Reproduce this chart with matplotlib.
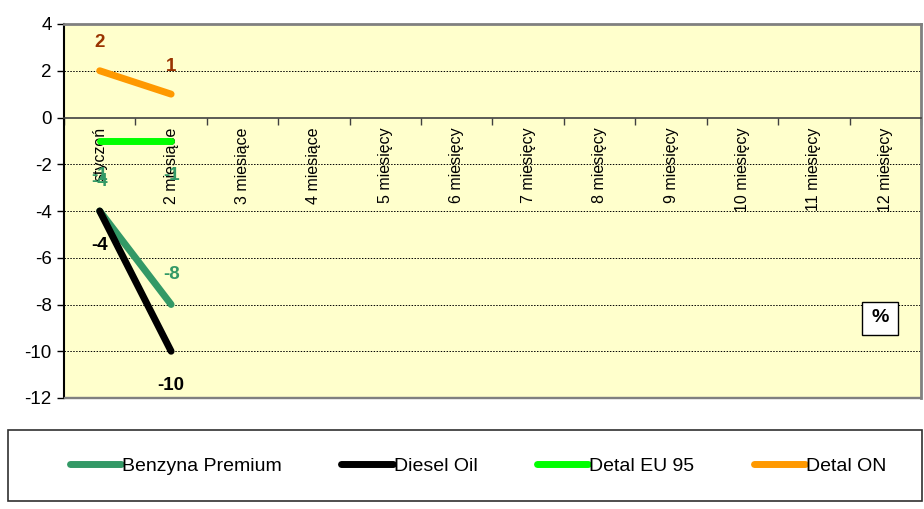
import numpy as np
import matplotlib
matplotlib.use("Agg")
import matplotlib.pyplot as plt
from matplotlib.patches import Rectangle

plt.rcParams['font.family'] = ['Liberation Sans', 'DejaVu Sans']
plt.rcParams['axes.unicode_minus'] = False

months = ['styczeń', '2 miesiące', '3 miesiące', '4 miesiące', '5 miesięcy',
          '6 miesięcy', '7 miesięcy', '8 miesięcy', '9 miesięcy', '10 miesięcy',
          '11 miesięcy', '12 miesięcy']

benzyna = [-4, -8]
diesel = [-4, -10]
detal_eu95 = [-1, -1]
detal_on = [2, 1]

# name, values, line colour, label colour, label offset in px (negative = below)
series = [
    ('Benzyna Premium', benzyna, '#339966', '#339966', 30),
    ('Diesel Oil', diesel, '#000000', '#000000', -34),
    ('Detal EU 95', detal_eu95, '#00FF00', '#339966', -35),
    ('Detal ON', detal_on, '#FF9900', '#993300', 28),
]

W, H = 924, 509
fig = plt.figure(figsize=(W / 100, H / 100), dpi=100)
ax = fig.add_axes([64 / W, 1 - 398 / H, (921 - 64) / W, (398 - 24) / H])
ax.set_facecolor('#FFFFCC')

x = np.arange(len(months))
handles = []
for name, vals, col, lcol, off in series:
    xs = x[:len(vals)]
    ln, = ax.plot(xs, vals, color=col, lw=5, solid_capstyle='round', label=name)
    handles.append(ln)
    for xi, v in zip(xs, vals):
        ax.annotate(f'{v}', (xi, v), xytext=(0, off * 0.72), textcoords='offset points',
                    ha='center', va='center', fontsize=13.5, fontweight='bold', color=lcol)

ax.set_xlim(-0.5, len(months) - 0.5)
ax.set_ylim(-12, 4)
ax.set_yticks(np.arange(-12, 5, 2))
ax.tick_params(axis='y', labelsize=13.5, length=5, width=1, direction='out', pad=4)
for g in [2, -2, -4, -6, -8, -10]:
    ax.axhline(g, color='black', lw=0.7, ls=(0, (1.5, 1.5)), zorder=0.5)

# x axis through zero
ax.spines['bottom'].set_position(('data', 0))
ax.spines['bottom'].set_color('#404040')
ax.spines['bottom'].set_linewidth(1.2)
ax.set_xticks(np.arange(-0.5, len(months), 1))
ax.set_xticklabels([])
ax.set_xticks(x, minor=True)
ax.set_xticklabels(months, minor=True, rotation=90, va='top', fontsize=11.5)
ax.tick_params(axis='x', which='major', length=5, width=1, direction='out', color='#404040')
ax.tick_params(axis='x', which='minor', length=0, pad=7)

ax.spines['left'].set_color('black')
ax.spines['left'].set_linewidth(1.5)
for s in ['top', 'right']:
    ax.spines[s].set_color('#808080')
    ax.spines[s].set_linewidth(2)
# bottom border of plot area (spine is moved to y=0)
ax.add_patch(Rectangle((0, 0), 1, 0.003, transform=ax.transAxes, color='#808080',
                       clip_on=False, zorder=3))

# "%" box
ax.add_patch(Rectangle((862 / W, 1 - 335 / H), 36 / W, 33 / H, transform=fig.transFigure,
                       facecolor='white', edgecolor='black', lw=1, zorder=4))
fig.text(880 / W, 1 - 318 / H, '%', fontsize=14, fontweight='bold', ha='center',
         va='center', zorder=5)

# legend box
fig.patches.append(Rectangle((8 / W, 1 - 501 / H), 914 / W, 71 / H, transform=fig.transFigure,
                             facecolor='white', edgecolor='#303030', lw=1.2))
fig.legend(handles=handles, loc='center', bbox_to_anchor=(478 / W, 1 - 466 / H),
           ncol=4, frameon=False, fontsize=14, handlelength=2.65, handletextpad=0.05,
           columnspacing=3.05)

fig.savefig('out.png', dpi=100)
